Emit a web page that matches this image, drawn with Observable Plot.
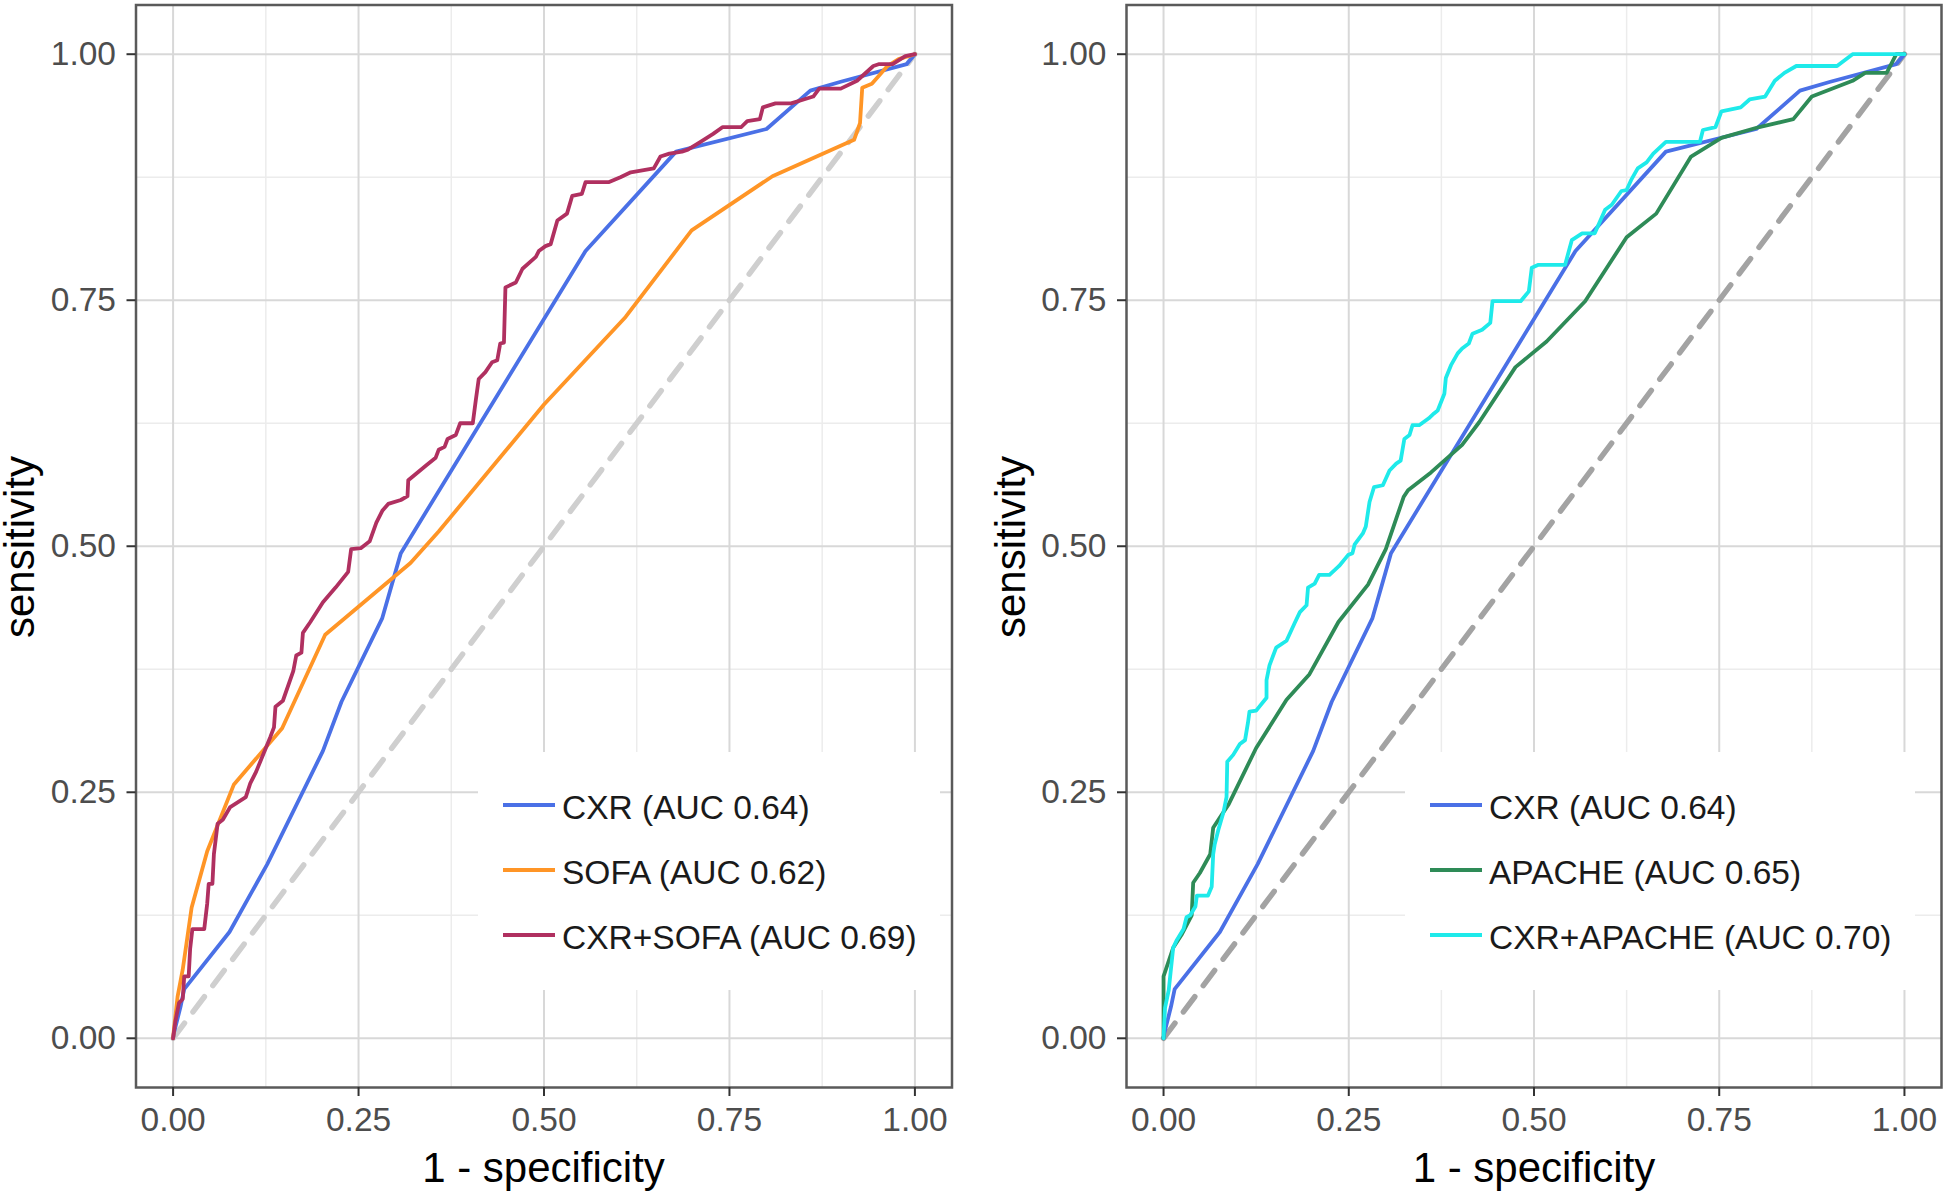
<!DOCTYPE html>
<html>
<head>
<meta charset="utf-8">
<script src="https://cdn.jsdelivr.net/npm/d3@7"></script>
<script src="https://cdn.jsdelivr.net/npm/@observablehq/plot@0.6"></script>
<style>
  html, body { margin: 0; padding: 0; background: #fff; }
  #wrap { position: relative; width: 1946px; height: 1195px; overflow: hidden; background: #fff;
          font-family: "Liberation Sans", Arial, Helvetica, sans-serif; }
  .panel { position: absolute; top: 0; }
  .xtitle { position: absolute; width: 800px; text-align: center; font-size: 42px; line-height: 42px; color: #000; white-space: nowrap; }
  .ysvg { position: absolute; top: 0; overflow: visible; }
  .legend { position: absolute; background: #fff; }
  .key { position: absolute; height: 3.5px; width: 52px; }
  .ltext { position: absolute; font-size: 33.5px; line-height: 33.5px; color: #1a1a1a; white-space: nowrap; }
</style>
</head>
<body>
<div id="wrap"></div>
<script>
// ---------- data ----------
const majorTicks = [0, 0.25, 0.5, 0.75, 1];
const minorTicks = [0.125, 0.375, 0.625, 0.875];
const diagX = [0, 1];
const diagY = [0, 1];

// CXR (both panels)
const cxrX = [0, 0.001, 0.010, 0.015, 0.076, 0.127, 0.202, 0.227, 0.282, 0.307, 0.556, 0.678, 0.800, 0.859, 0.900, 0.989, 1];
const cxrY = [0, 0.005, 0.032, 0.050, 0.108, 0.177, 0.292, 0.342, 0.427, 0.493, 0.800, 0.901, 0.924, 0.963, 0.972, 0.990, 1];

// SOFA
const sofaX = [0, 0.001, 0.006, 0.013, 0.025, 0.046, 0.082, 0.147, 0.205, 0.320, 0.358, 0.500, 0.610, 0.699, 0.808, 0.918, 0.926, 0.929, 0.942, 0.963, 0.978, 1];
const sofaY = [0, 0.008, 0.042, 0.070, 0.133, 0.190, 0.258, 0.315, 0.410, 0.483, 0.515, 0.644, 0.733, 0.821, 0.876, 0.913, 0.930, 0.966, 0.970, 0.988, 0.995, 1];

// CXR+SOFA
const cxrSofaX = [0, 0.003, 0.008, 0.013, 0.015, 0.021, 0.023, 0.026, 0.042, 0.046, 0.048, 0.053, 0.055, 0.060, 0.067, 0.077, 0.098, 0.104, 0.112, 0.131, 0.136, 0.138, 0.148, 0.162, 0.166, 0.173, 0.175, 0.185, 0.202, 0.219, 0.236, 0.240, 0.253, 0.265, 0.274, 0.282, 0.290, 0.307, 0.316, 0.317, 0.328, 0.341, 0.354, 0.358, 0.366, 0.370, 0.381, 0.387, 0.404, 0.408, 0.412, 0.421, 0.430, 0.437, 0.441, 0.446, 0.448, 0.462, 0.471, 0.489, 0.493, 0.502, 0.509, 0.518, 0.531, 0.538, 0.551, 0.556, 0.587, 0.603, 0.617, 0.648, 0.657, 0.669, 0.686, 0.694, 0.711, 0.728, 0.741, 0.766, 0.774, 0.791, 0.795, 0.812, 0.833, 0.850, 0.863, 0.871, 0.900, 0.922, 0.944, 0.952, 0.970, 0.987, 1];
const cxrSofaY = [0, 0.017, 0.036, 0.040, 0.063, 0.063, 0.091, 0.111, 0.111, 0.137, 0.157, 0.157, 0.187, 0.218, 0.222, 0.235, 0.245, 0.259, 0.271, 0.306, 0.316, 0.337, 0.343, 0.373, 0.389, 0.392, 0.412, 0.423, 0.443, 0.458, 0.474, 0.497, 0.498, 0.505, 0.524, 0.536, 0.543, 0.547, 0.551, 0.567, 0.574, 0.582, 0.590, 0.598, 0.601, 0.609, 0.613, 0.625, 0.625, 0.648, 0.670, 0.677, 0.687, 0.689, 0.706, 0.707, 0.763, 0.768, 0.782, 0.794, 0.800, 0.805, 0.807, 0.831, 0.838, 0.856, 0.858, 0.870, 0.870, 0.875, 0.880, 0.884, 0.896, 0.899, 0.901, 0.903, 0.911, 0.919, 0.926, 0.926, 0.932, 0.934, 0.946, 0.950, 0.950, 0.954, 0.957, 0.965, 0.965, 0.973, 0.988, 0.990, 0.990, 0.998, 1];

// APACHE
const apacheX = [0, 0, 0.013, 0.025, 0.038, 0.040, 0.049, 0.063, 0.067, 0.088, 0.125, 0.166, 0.197, 0.236, 0.276, 0.300, 0.324, 0.330, 0.361, 0.403, 0.426, 0.475, 0.517, 0.569, 0.625, 0.665, 0.712, 0.753, 0.804, 0.850, 0.875, 0.930, 0.947, 0.976, 0.989, 1];
const apacheY = [0, 0.063, 0.092, 0.106, 0.125, 0.158, 0.168, 0.187, 0.214, 0.238, 0.295, 0.344, 0.370, 0.423, 0.461, 0.497, 0.550, 0.557, 0.575, 0.603, 0.626, 0.682, 0.708, 0.749, 0.814, 0.838, 0.896, 0.915, 0.926, 0.934, 0.957, 0.973, 0.981, 0.981, 1.0, 1];

// CXR+APACHE
const cxrApacheX = [0, 0.002, 0.007, 0.013, 0.018, 0.027, 0.031, 0.036, 0.043, 0.045, 0.060, 0.065, 0.067, 0.069, 0.074, 0.081, 0.085, 0.086, 0.094, 0.103, 0.110, 0.114, 0.116, 0.125, 0.139, 0.139, 0.143, 0.152, 0.166, 0.177, 0.184, 0.193, 0.195, 0.204, 0.210, 0.224, 0.237, 0.249, 0.255, 0.258, 0.269, 0.273, 0.278, 0.284, 0.296, 0.305, 0.314, 0.320, 0.325, 0.332, 0.336, 0.345, 0.358, 0.365, 0.370, 0.379, 0.381, 0.388, 0.397, 0.403, 0.412, 0.417, 0.430, 0.441, 0.444, 0.482, 0.493, 0.497, 0.506, 0.542, 0.551, 0.565, 0.582, 0.596, 0.605, 0.618, 0.625, 0.631, 0.640, 0.652, 0.661, 0.678, 0.724, 0.728, 0.745, 0.753, 0.779, 0.791, 0.812, 0.825, 0.838, 0.854, 0.909, 0.930, 1];
const cxrApacheY = [0, 0.031, 0.049, 0.092, 0.100, 0.111, 0.123, 0.125, 0.134, 0.145, 0.145, 0.154, 0.187, 0.197, 0.212, 0.230, 0.245, 0.281, 0.288, 0.299, 0.303, 0.321, 0.332, 0.333, 0.346, 0.364, 0.379, 0.397, 0.404, 0.422, 0.433, 0.440, 0.458, 0.462, 0.471, 0.471, 0.480, 0.491, 0.493, 0.502, 0.513, 0.520, 0.545, 0.560, 0.562, 0.577, 0.584, 0.587, 0.609, 0.613, 0.623, 0.623, 0.630, 0.635, 0.638, 0.655, 0.671, 0.684, 0.696, 0.701, 0.706, 0.716, 0.720, 0.727, 0.749, 0.749, 0.759, 0.783, 0.786, 0.786, 0.811, 0.818, 0.818, 0.842, 0.847, 0.861, 0.862, 0.872, 0.884, 0.890, 0.899, 0.911, 0.911, 0.923, 0.926, 0.942, 0.946, 0.954, 0.957, 0.973, 0.981, 0.988, 0.988, 1.0, 1];

const leftLabels = ["CXR (AUC 0.64)", "SOFA (AUC 0.62)", "CXR+SOFA (AUC 0.69)"];
const rightLabels = ["CXR (AUC 0.64)", "APACHE (AUC 0.65)", "CXR+APACHE (AUC 0.70)"];
const leftColors = ["#4a70e6", "#ff9526", "#b03060"];
const rightColors = ["#4a70e6", "#2e8b57", "#1eeaea"];
const xTitle = "1 - specificity";
const yTitle = "sensitivity";

// ---------- drawing ----------
const FONT = '"Liberation Sans", Arial, Helvetica, sans-serif';

function rocPanel({width, marginLeft, marginRight, series, diagStroke}) {
  return Plot.plot({
    width, height: 1195,
    marginLeft, marginRight, marginTop: 4.5, marginBottom: 108,
    x: {domain: [-0.05, 1.05], label: null},
    y: {domain: [-0.05, 1.05], label: null},
    style: {fontFamily: FONT, background: "transparent", overflow: "visible"},
    marks: [
      Plot.gridX(minorTicks, {stroke: "#ececec", strokeOpacity: 1, strokeWidth: 1.5}),
      Plot.gridY(minorTicks, {stroke: "#ececec", strokeOpacity: 1, strokeWidth: 1.5}),
      Plot.gridX(majorTicks, {stroke: "#d8d8d8", strokeOpacity: 1, strokeWidth: 2}),
      Plot.gridY(majorTicks, {stroke: "#d8d8d8", strokeOpacity: 1, strokeWidth: 2}),
      Plot.line(diagX, {x: diagX, y: diagY, stroke: diagStroke, strokeWidth: 5.5, strokeDasharray: "19,14"}),
      ...series.map(s => Plot.line(s.x, {x: s.x, y: s.y, stroke: s.color, strokeWidth: 3.8, strokeLinejoin: "round", curve: "linear"})),
      Plot.frame({stroke: "#5a5a5a", strokeWidth: 2.5}),
      Plot.axisX(majorTicks, {tickSize: 9, tickPadding: 11, fontSize: 33.5, tickFormat: d3.format(".2f"),
        stroke: "#333333", strokeWidth: 2, fill: "#4d4d4d", label: null}),
      Plot.axisY(majorTicks, {tickSize: 9, tickPadding: 11, fontSize: 33.5, tickFormat: d3.format(".2f"),
        stroke: "#333333", strokeWidth: 2, fill: "#4d4d4d", label: null})
    ]
  });
}

const wrap = document.getElementById("wrap");

function place(el, left) {
  el.classList.add("panel");
  el.style.left = left + "px";
  wrap.appendChild(el);
}

const leftPlot = rocPanel({
  width: 966, marginLeft: 135.5, marginRight: 14.5, diagStroke: "#cfcfcf",
  series: [
    {x: cxrX, y: cxrY, color: leftColors[0]},
    {x: sofaX, y: sofaY, color: leftColors[1]},
    {x: cxrSofaX, y: cxrSofaY, color: leftColors[2]}
  ]
});
place(leftPlot, 0);

const rightPlot = rocPanel({
  width: 980, marginLeft: 160, marginRight: 5, diagStroke: "#a3a3a3",
  series: [
    {x: cxrX, y: cxrY, color: rightColors[0]},
    {x: apacheX, y: apacheY, color: rightColors[1]},
    {x: cxrApacheX, y: cxrApacheY, color: rightColors[2]}
  ]
});
place(rightPlot, 966);

function addTitles(centerX, svgLeft) {
  const xt = document.createElement("div");
  xt.className = "xtitle";
  xt.textContent = xTitle;
  xt.style.left = (centerX - 400) + "px";
  xt.style.top = "1147px";
  wrap.appendChild(xt);
  // rotated y-axis title as SVG text (baseline 33px from the svg's left edge)
  const svg = d3.create("svg")
    .attr("class", "ysvg")
    .attr("width", 50).attr("height", 1195)
    .style("left", svgLeft + "px");
  svg.append("text")
    .attr("transform", "translate(34,547) rotate(-90)")
    .attr("text-anchor", "middle")
    .attr("font-family", FONT)
    .attr("font-size", 42)
    .attr("fill", "#000")
    .text(yTitle);
  wrap.appendChild(svg.node());
}
addTitles(543.5, 0);
addTitles(1534, 990.5);

function addLegend(boxLeft, boxWidth, keyLeft, textLeft, labels, colors) {
  const box = document.createElement("div");
  box.className = "legend";
  box.style.left = boxLeft + "px";
  box.style.top = "752px";
  box.style.width = boxWidth + "px";
  box.style.height = "238px";
  wrap.appendChild(box);
  const keyYs = [805, 870, 935];
  labels.forEach((lab, i) => {
    const k = document.createElement("div");
    k.className = "key";
    k.style.background = colors[i];
    k.style.left = keyLeft + "px";
    k.style.top = (keyYs[i] - 1.75) + "px";
    wrap.appendChild(k);
    const t = document.createElement("div");
    t.className = "ltext";
    t.textContent = lab;
    t.style.left = textLeft + "px";
    t.style.top = (keyYs[i] - 14.4) + "px";
    wrap.appendChild(t);
  });
}
addLegend(478, 462, 503, 562, leftLabels, leftColors);
addLegend(1405, 510, 1430, 1489, rightLabels, rightColors);
</script>
</body>
</html>
